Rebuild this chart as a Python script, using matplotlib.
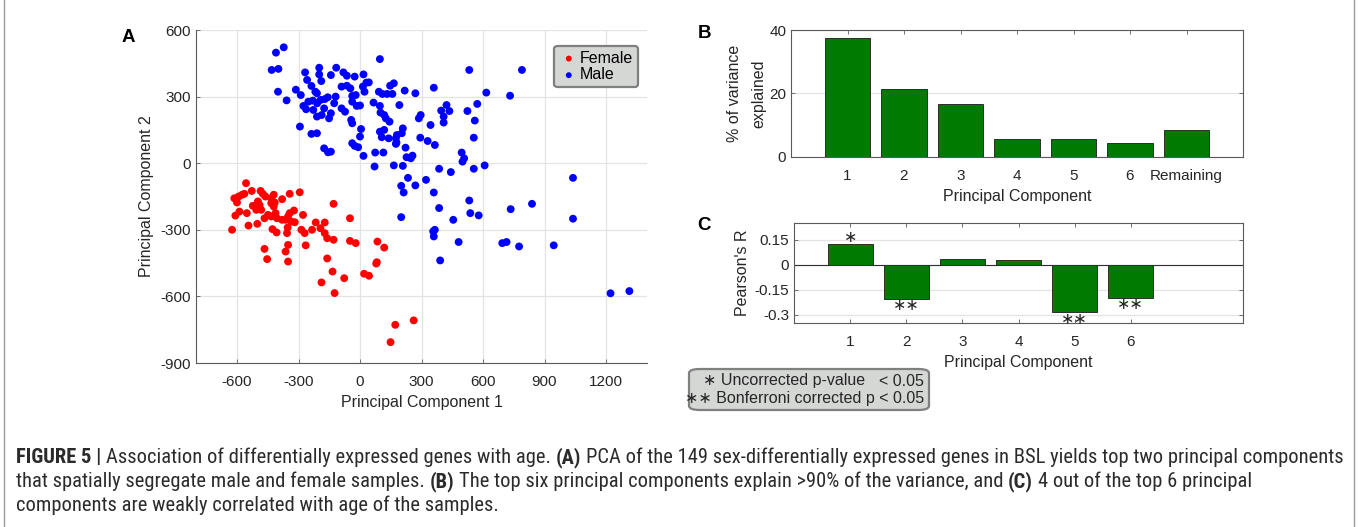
import numpy as np
import matplotlib
matplotlib.use('Agg')
import matplotlib.pyplot as plt
from matplotlib import font_manager
from matplotlib.font_manager import FontProperties
from matplotlib.patches import FancyBboxPatch
from matplotlib.lines import Line2D

# panel A: PCA scores
male_pc1 = [-372, -410, -431, -398, -400, -358, -313, -289, -268, -258, -199, -199, -189, -116, -142,
            -81, -64, -26, 17, 97, -237, -218, -210, -276, -252, -230, -209, -192, -171, -157, -119,
            -263, -228, -210, -175, -187, -142, -151, -126, -90, -64, -47, -38, -21, 14, 22, 31, 43,
            66, -38, -16, 0, -90, -73, -43, -38, 5, -293, -237, -210, -175, -156, -142, -38, -26, -9,
            0, 17, 71, 74, 114, 92, 109, 132, 158, 147, 165, 218, 270, 360, 97, 100, 118, 126, 144,
            118, 97, 106, 140, 175, 180, 209, 204, 192, 178, 175, 222, 227, 248, 256, 287, 296, 294,
            330, 344, 365, 396, 408, 408, 422, 436, 524, 533, 560, 572, 616, 555, 496, 508, 500, 732,
            790, 209, 165, 386, 443, 555, 608, 234, 201, 213, 270, 322, 360, 386, 533, 538, 579, 735,
            839, 1039, 201, 455, 1039, 357, 365, 360, 481, 391, 694, 715, 776, 945, 1222, 1314]
male_pc2 = [522, 498, 420, 425, 322, 283, 331, 307, 409, 375, 430, 400, 370, 430, 397,
            409, 394, 390, 400, 469, 348, 322, 315, 258, 277, 282, 270, 285, 289, 297, 300,
            243, 240, 210, 247, 217, 225, 202, 270, 345, 349, 337, 303, 307, 345, 322, 363, 364,
            273, 277, 258, 260, 247, 232, 195, 180, 154, 165, 132, 135, 67, 49, 52, 90, 78, 72,
            120, 33, -15, 48, 48, 322, 312, 312, 312, 349, 360, 327, 315, 340, 258, 228, 217, 202, 187,
            150, 142, 117, 112, 112, 127, 157, 135, 262, 93, 87, 70, 27, 22, 34, 202, 217, 115,
            100, 172, 82, 237, 183, 210, 262, 235, 235, 420, 192, 267, 318, 115, 48, 22, 7, 304,
            420, -12, -10, -25, -40, -25, -10, -66, -102, -132, -100, -75, -132, -202, -168, -225, -235, -207,
            -183, -66, -243, -255, -250, -307, -300, -330, -355, -438, -360, -355, -375, -370, -586, -576]

female_pc1 = [-556, -613, -592, -575, -600, -564, -528, -485, -474, -461, -421, -433, -380, -343,
              -523, -498, -490, -506, -482, -433, -416, -421, -588, -608, -552, -466, -449, -433,
              -412, -405, -380, -363, -351, -343, -322, -335, -318, -624, -544, -501, -427, -407,
              -353, -356, -351, -363, -466, -453, -351,
              -294, -129, -49, -278, -216, -172, -193, -234, -286, -270, -172, -160, -129, -265,
              -49, -21, 85, 118, -160, -134, -77, -188, -124, 82, 79, 20, 44, 172, 262, 149]
female_pc2 = [-90, -158, -150, -142, -177, -138, -125, -125, -138, -150, -142, -158, -162, -138,
              -192, -172, -188, -210, -210, -180, -177, -195, -218, -236, -225, -248, -233, -240,
              -225, -248, -255, -255, -240, -225, -213, -263, -266, -300, -281, -273, -297, -312,
              -290, -315, -368, -398, -386, -432, -443,
              -131, -183, -248, -233, -267, -267, -293, -300, -300, -315, -315, -338, -345, -370,
              -350, -360, -353, -380, -429, -488, -518, -537, -585, -446, -452, -498, -507, -728, -708, -806]

# panel B / C
pc_labels = ['1', '2', '3', '4', '5', '6', 'Remaining']
var_explained = [37.5, 21.5, 16.8, 5.7, 5.6, 4.3, 8.6]
pc_corr = ['1', '2', '3', '4', '5', '6']
pearson_r = [0.126, -0.206, 0.036, 0.026, -0.286, -0.200]
sig_marks = ['∗', '∗∗', '', '', '∗∗', '∗∗']

caption_lines = [
    [('FIGURE 5 |', True), ('Association of differentially expressed genes with age.', False), ('(A)', True),
     ('PCA of the 149 sex-differentially expressed genes in BSL yields top two principal components', False)],
    [('that spatially segregate male and female samples.', False), ('(B)', True),
     ('The top six principal components explain >90% of the variance, and', False), ('(C)', True),
     ('4 out of the top 6 principal', False)],
    [('components are weakly correlated with age of the samples.', False)],
]

W, H = 1358, 527
plt.rcParams['font.family'] = ['Liberation Sans', 'DejaVu Sans']
plt.rcParams['axes.unicode_minus'] = False


def is_bold(w):
    if isinstance(w, str):
        return w in ('bold', 'heavy', 'black', 'extra bold', 'demibold', 'semibold')
    return w >= 600


# look for a narrow sans for the caption
def find_narrow():
    fl = font_manager.fontManager.ttflist
    groups = {}
    for f in fl:
        narrow = ('Narrow' in f.name or 'Condensed' in f.name or
                  str(f.stretch) in ('condensed', 'semi-condensed', '75', '87'))
        if not narrow or f.style != 'normal':
            continue
        groups.setdefault(f.name, {})
        groups[f.name]['b' if is_bold(f.weight) else 'r'] = f.fname
    for pref in ['Liberation Sans Narrow', 'Roboto Condensed', 'Open Sans Condensed', 'Noto Sans',
                 'DejaVu Sans', 'Noto Sans Display']:
        g = groups.get(pref)
        if g and 'r' in g and 'b' in g:
            return FontProperties(fname=g['r']), FontProperties(fname=g['b'])
    for g in groups.values():
        if 'r' in g and 'b' in g:
            return FontProperties(fname=g['r']), FontProperties(fname=g['b'])
    return (FontProperties(family='Liberation Sans'),
            FontProperties(family='Liberation Sans', weight='bold'))


cap_reg, cap_bold = find_narrow()

TXT = '#262626'
SPINE = '#5a5a5a'
GRID = '#e3e3e3'
GREEN = '#007a00'
LAB = 11.5

fig = plt.figure(figsize=(W / 100, H / 100), dpi=100)
fig.patch.set_facecolor('white')


def px_axes(x0, y0, x1, y1):
    return fig.add_axes([x0 / W, 1 - y1 / H, (x1 - x0) / W, (y1 - y0) / H])


def style(ax, box=True):
    for s in ax.spines.values():
        s.set_color(SPINE)
        s.set_linewidth(0.8)
    if not box:
        ax.spines['top'].set_visible(False)
        ax.spines['right'].set_visible(False)
    ax.tick_params(direction='in', length=3, width=0.6, color=SPINE, labelsize=11,
                   labelcolor=TXT, top=box, right=box)
    ax.tick_params(axis='x', pad=9)
    ax.set_axisbelow(True)


# ---- A
axA = px_axes(196, 30, 647, 363)
axA.scatter(female_pc1, female_pc2, s=32, c='#ff0000', edgecolors='none', label='Female')
axA.scatter(male_pc1, male_pc2, s=32, c='#0000ff', edgecolors='none', label='Male')
axA.set_xlim(-800, 1400)
axA.set_ylim(-900, 600)
axA.set_xticks(np.arange(-600, 1201, 300))
axA.set_yticks(np.arange(-900, 601, 300))
axA.grid(True, color=GRID, lw=0.9)
style(axA, box=False)
axA.set_xlabel('Principal Component 1', fontsize=LAB, color=TXT, labelpad=4)
axA.set_ylabel('Principal Component 2', fontsize=LAB, color=TXT, labelpad=5)
leg = axA.legend(loc='upper right', bbox_to_anchor=(0.98, 0.952), borderaxespad=0, fontsize=11.5,
                 markerscale=0.75, handletextpad=0.1, handlelength=1.2, borderpad=0.3,
                 labelspacing=0.1, fancybox=True, framealpha=1)
leg.get_frame().set_facecolor('#d5d7d5')
leg.get_frame().set_edgecolor('#7f7f7f')
leg.get_frame().set_linewidth(1.6)

# ---- B
axB = px_axes(791, 30, 1243, 157)
xb = np.arange(1, len(pc_labels) + 1)
axB.bar(xb, var_explained, width=0.8, color=GREEN, edgecolor='#1a1a1a', linewidth=0.6)
axB.set_xlim(0, 8)
axB.set_ylim(0, 40)
axB.set_xticks(xb)
axB.set_xticklabels(pc_labels)
axB.set_yticks([0, 20, 40])
axB.yaxis.grid(True, color=GRID, lw=0.9)
style(axB)
axB.set_xlabel('Principal Component', fontsize=LAB, color=TXT, labelpad=4)
axB.set_ylabel('% of variance\nexplained', fontsize=LAB, color=TXT, labelpad=2, linespacing=1.8)

# ---- C
axC = px_axes(794, 223, 1243, 323)
xc = np.arange(1, len(pc_corr) + 1)
axC.bar(xc, pearson_r, width=0.8, color=GREEN, edgecolor='#1a1a1a', linewidth=0.6)
axC.axhline(0, color='#303030', lw=0.8)
axC.set_xlim(0, 8)
axC.set_ylim(-0.35, 0.25)
axC.set_xticks(xc)
axC.set_xticklabels(pc_corr)
axC.set_yticks([-0.3, -0.15, 0, 0.15])
axC.set_yticklabels(['-0.3', '-0.15', '0', '0.15'])
axC.yaxis.grid(True, color=GRID, lw=0.9)
style(axC)
axC.set_xlabel('Principal Component', fontsize=LAB, color=TXT, labelpad=4)
axC.set_ylabel("Pearson's R", fontsize=LAB, color=TXT, labelpad=3)
for x, r, m in zip(xc, pearson_r, sig_marks):
    if not m:
        continue
    yy = r + 0.04 if r > 0 else r - 0.04
    axC.text(x, yy, m, ha='center', va='center', fontsize=11.5, color=TXT,
             family=['DejaVu Sans'], clip_on=False)

# significance key box
fig.patches.append(FancyBboxPatch((689 / W, 1 - 410 / H), 240 / W, 41 / H,
                                  boxstyle='round,pad=0,rounding_size=0.008',
                                  transform=fig.transFigure, facecolor='#d5d7d5',
                                  edgecolor='#7f7f7f', linewidth=1.6))
fig.text(703 / W, 1 - 381 / H, '∗ Uncorrected p-value', ha='left', va='center', fontsize=11.5,
         color=TXT, family=['Liberation Sans', 'DejaVu Sans'])
fig.text(924 / W, 1 - 381 / H, '< 0.05', ha='right', va='center', fontsize=11.5, color=TXT)
fig.text(924 / W, 1 - 398 / H, '∗∗ Bonferroni corrected p < 0.05', ha='right', va='center',
         fontsize=11.5, color=TXT, family=['Liberation Sans', 'DejaVu Sans'])

# panel letters
for lab, x, y in [('A', 128, 38), ('B', 704, 34), ('C', 704, 226)]:
    fig.text(x / W, 1 - y / H, lab, ha='center', va='center', fontsize=13.5, fontweight='bold',
             color='black')

# caption
renderer = fig.canvas.get_renderer()


def cap_text(x, y, s, size, bold):
    fp = (cap_bold if bold else cap_reg).copy()
    fp.set_size(size)
    return fig.text(x / W, 1 - y / H, s, fontproperties=fp, va='baseline', color='#2b2b2b')


def draw_line(segs, y, size):
    sp = cap_text(0, 0, 'x x', size, False)
    sp2 = cap_text(0, 0, 'xx', size, False)
    space = sp.get_window_extent(renderer).width - sp2.get_window_extent(renderer).width
    sp.remove()
    sp2.remove()
    x = 16
    out = []
    for s, b in segs:
        t = cap_text(x, y, s, size, b)
        bb = t.get_window_extent(renderer)
        out.append(t)
        x = bb.x1 + space
    return out, x - space


# fit the first line to the reference width
cap_size = 12.0
arts, right = draw_line(caption_lines[0], 463, cap_size)
for t in arts:
    t.remove()
cap_size *= (1337 - 16) / (right - 16)
for i, segs in enumerate(caption_lines):
    draw_line(segs, 463 + 24 * i, cap_size)

# side rules of the page frame
for xf in (3.5, 1353.5):
    fig.add_artist(Line2D([xf / W, xf / W], [0, 1], transform=fig.transFigure,
                          color='#9a9a9a', lw=1))

fig.savefig('out.png', dpi=100)
